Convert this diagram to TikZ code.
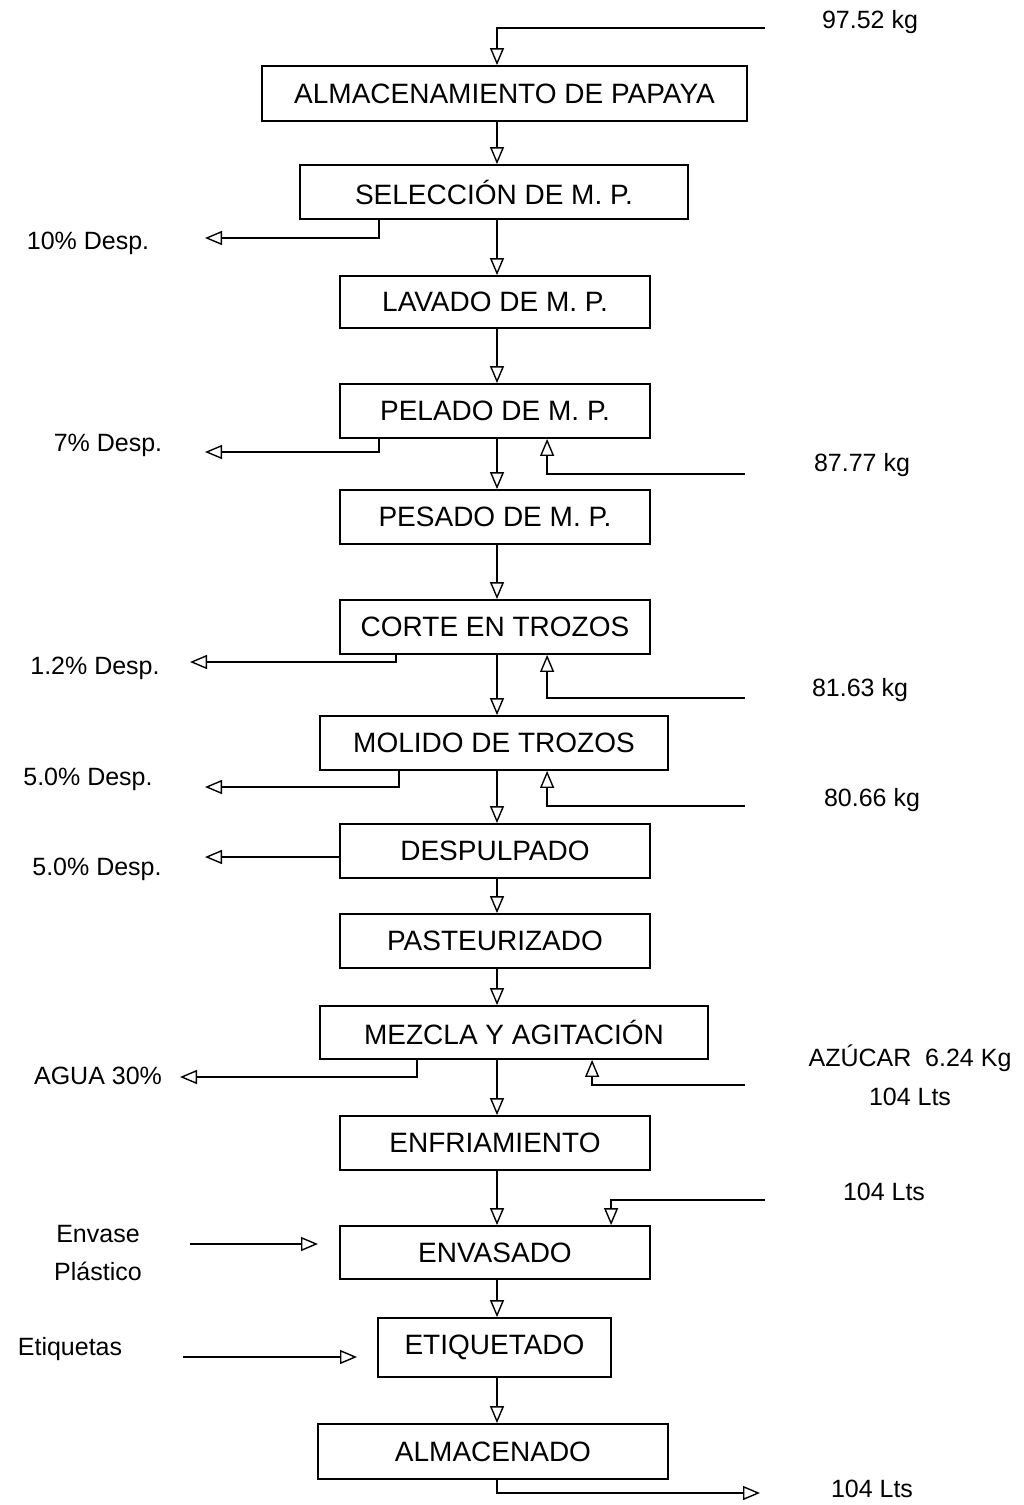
\documentclass[tikz,border=0pt]{standalone}
\usepackage{fontspec}
\setmainfont{Liberation Sans}
\usetikzlibrary{arrows.meta}
\begin{document}
\begin{tikzpicture}[x=1pt,y=-1pt,
  box/.style={draw, line width=1.8pt, inner sep=0pt, font=\fontsize{28}{32}\selectfont},
  lbl/.style={font=\fontsize{25}{29}\selectfont, inner sep=0pt},
  flow/.style={line width=1.6pt, -{Triangle[open,length=17pt,width=14pt,line width=1.4pt]}}]
\fill[white] (0,0) rectangle (1023,1505);
\useasboundingbox (0,0) rectangle (1023,1505);
\coordinate (axis) at (497,0);
% boxes
\node[box, minimum width=485pt, minimum height=55pt] (b1) at (504.5,93.5) {ALMACENAMIENTO DE PAPAYA};
\node[box, minimum width=388pt, minimum height=54pt] (b2) at (494,192) {SELECCIÓN DE M. P.};
\node[box, minimum width=310pt, minimum height=52pt] (b3) at (495,302) {LAVADO DE M. P.};
\node[box, minimum width=310pt, minimum height=54pt] (b4) at (495,411) {PELADO DE M. P.};
\node[box, minimum width=310pt, minimum height=54pt] (b5) at (495,517) {PESADO DE M. P.};
\node[box, minimum width=310pt, minimum height=54pt] (b6) at (495,627) {CORTE EN TROZOS};
\node[box, minimum width=348pt, minimum height=54pt] (b7) at (494,743) {MOLIDO DE TROZOS};
\node[box, minimum width=310pt, minimum height=54pt] (b8) at (495,851) {DESPULPADO};
\node[box, minimum width=310pt, minimum height=54pt] (b9) at (495,941) {PASTEURIZADO};
\node[box, minimum width=388pt, minimum height=53pt] (b10) at (514,1032.5) {MEZCLA Y AGITACIÓN};
\node[box, minimum width=310pt, minimum height=54pt] (b11) at (495,1143) {ENFRIAMIENTO};
\node[box, minimum width=310pt, minimum height=53pt] (b12) at (495,1252.5) {ENVASADO};
\node[box, minimum width=233pt, minimum height=59pt] (b13) at (494.5,1347.5) {ETIQUETADO};
\node[box, minimum width=350pt, minimum height=55pt] (b14) at (493,1451.5) {ALMACENADO};
% main flow
\coordinate (in1) at (765,28);
\draw[flow] (in1) -- (in1 -| axis) -- (b1.north -| axis);
\foreach \a/\b in {b1/b2,b2/b3,b3/b4,b4/b5,b5/b6,b6/b7,b7/b8,b8/b9,b9/b10,b10/b11,b11/b12,b12/b13,b13/b14}
  \draw[flow] (\a.south -| axis) -- (\b.north -| axis);
% outputs left
\coordinate (o2) at (205,238);
\draw[flow] ([xshift=80pt]b2.south west) |- (o2);
\coordinate (o4) at (205,452);
\draw[flow] ([xshift=40pt]b4.south west) |- (o4);
\coordinate (o6) at (190,662);
\draw[flow] ([xshift=57pt]b6.south west) |- (o6);
\coordinate (o7) at (205,787);
\draw[flow] ([xshift=80pt]b7.south west) |- (o7);
\coordinate (o8) at (205,857);
\draw[flow] (b8.west |- o8) -- (o8);
\coordinate (o10) at (180,1077);
\draw[flow] ([xshift=98pt]b10.south west) |- (o10);
% inputs right
\coordinate (i4) at (745,474);
\draw[flow] (i4) -| ([xshift=208pt]b4.south west);
\coordinate (i6) at (745,698);
\draw[flow] (i6) -| ([xshift=208pt]b6.south west);
\coordinate (i7) at (745,806);
\draw[flow] (i7) -| ([xshift=228pt]b7.south west);
\coordinate (i10) at (745,1085);
\draw[flow] (i10) -| ([xshift=273pt]b10.south west);
\coordinate (i12) at (765,1200);
\draw[flow] (i12) -| ([xshift=272pt]b12.north west);
% inputs left
\coordinate (e1) at (190,1244);
\coordinate (e2) at (318,1244);
\draw[flow] (e1) -- (e2);
\coordinate (t1) at (183,1357);
\coordinate (t2) at (357,1357);
\draw[flow] (t1) -- (t2);
% final output
\coordinate (out14) at (760,1493);
\draw[flow] (b14.south -| axis) |- (out14);
% labels
\node[lbl] (l1) at (870,22) {97.52 kg};
\node[lbl] (l2) at (88,243) {10\% Desp.};
\node[lbl] (l3) at (108,445) {7\% Desp.};
\node[lbl] (l4) at (862,465) {87.77 kg};
\node[lbl] (l5) at (95,668) {1.2\% Desp.};
\node[lbl] (l6) at (860,690) {81.63 kg};
\node[lbl] (l7) at (88,779) {5.0\% Desp.};
\node[lbl] (l8) at (872,800) {80.66 kg};
\node[lbl] (l9) at (97,869) {5.0\% Desp.};
\node[lbl] (l10) at (98,1076) {AGUA 30\%};
\node[lbl] (l11) at (910,1058) {AZÚCAR\ \ 6.24 Kg};
\node[lbl] (l12) at (910,1097) {104 Lts};
\node[lbl] (l13) at (884,1192) {104 Lts};
\node[lbl] (l14) at (98,1234) {Envase};
\node[lbl] (l15) at (98,1271) {Plástico};
\node[lbl] (l16) at (70,1349) {Etiquetas};
\node[lbl] (l17) at (872,1489) {104 Lts};
\end{tikzpicture}
\end{document}
